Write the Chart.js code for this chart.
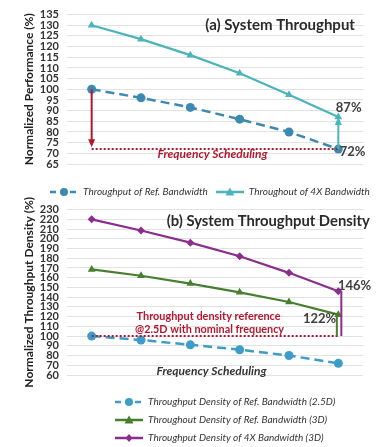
<!DOCTYPE html>
<html><head><meta charset="utf-8">
<script src="https://cdn.jsdelivr.net/npm/chart.js@4.4.0/dist/chart.umd.min.js"></script>
<style>
html,body{margin:0;padding:0;background:#fff;overflow:hidden;}
#wrap{position:relative;width:381px;height:447px;}
#wa{position:absolute;left:0;top:0;width:381px;height:207px;}
#wb{position:absolute;left:0;top:195px;width:381px;height:258px;}
</style></head><body>
<div id="wrap"><div id="wa"><canvas id="ca"></canvas></div><div id="wb"><canvas id="cb"></canvas></div></div>
<script>
const labels = ['f', '0.9f', '0.8f', '0.7f', '0.6f', '0.5f'];
const perfRef = [100, 96, 91.5, 86, 80, 72];
const perf4x = [130, 123.5, 116, 107.5, 97.5, 87];
const densRef = [100, 96, 91, 86, 80, 72];
const dens3d = [168.5, 162, 154, 145, 135, 122];
const dens4x = [220, 208.5, 196, 182, 165, 146];

const RED = '#b3172d';
const FONT = 'Lato, "Open Sans", sans-serif';
Chart.defaults.font.family = FONT;
Chart.defaults.color = '#333';

function icon(color, dash, style) {
	const c = document.createElement('canvas');
	c.width = 28; c.height = 12;
	const g = c.getContext('2d');
	g.strokeStyle = color; g.fillStyle = color; g.lineWidth = 2.5;
	g.setLineDash(dash);
	g.beginPath(); g.moveTo(0, 6); g.lineTo(28, 6); g.stroke();
	g.setLineDash([]);
	g.beginPath();
	if (style === 'circle') g.arc(14, 6, 4, 0, Math.PI * 2);
	else if (style === 'triangle') { g.moveTo(14, 1.5); g.lineTo(18.5, 9.5); g.lineTo(9.5, 9.5); g.closePath(); }
	else { g.moveTo(14, 2); g.lineTo(17.5, 6); g.lineTo(14, 10); g.lineTo(10.5, 6); g.closePath(); }
	g.fill();
	return c;
}

function line(label, data, color, style, dash) {
	return {
		label, data, borderColor: color, backgroundColor: color, borderWidth: dash ? 2.5 : 2.2,
		borderDash: dash || [], pointStyle: style, pointRadius: style === 'rectRot' ? 4 : 4.5,
		pointBackgroundColor: color, pointBorderWidth: 0, tension: 0,
	};
}

// helpers for notes drawn in data space
function P(chart, i, v) {
	return [chart.scales.x.getPixelForValue(i), chart.scales.y.getPixelForValue(v)];
}
function txt(ctx, chart, s, i, v, font, color, maxW) {
	const [x, y] = P(chart, i, v);
	ctx.font = font; ctx.fillStyle = color; ctx.textAlign = 'center'; ctx.textBaseline = 'middle';
	maxW ? ctx.fillText(s, x, y, maxW) : ctx.fillText(s, x, y);
}
function dotted(ctx, chart, v, color) {
	const [x0, y] = P(chart, 0, v);
	const [x1] = P(chart, labels.length - 1, v);
	ctx.save(); ctx.strokeStyle = color; ctx.lineWidth = 2; ctx.setLineDash([2, 2]);
	ctx.beginPath(); ctx.moveTo(x0, y); ctx.lineTo(x1, y); ctx.stroke(); ctx.restore();
}
function vline(ctx, chart, i, v0, v1, color, dx, head) {
	let [x, y0] = P(chart, i, v0);
	const [, y1] = P(chart, i, v1);
	x += dx;
	const d = y1 > y0 ? 1 : -1;
	ctx.save(); ctx.strokeStyle = color; ctx.fillStyle = color; ctx.lineWidth = 2;
	ctx.beginPath(); ctx.moveTo(x, y0); ctx.lineTo(x, head ? y1 - d * 6 : y1); ctx.stroke();
	if (head) {
		ctx.beginPath(); ctx.moveTo(x, y1); ctx.lineTo(x - 3.5, y1 - d * 8); ctx.lineTo(x + 3.5, y1 - d * 8); ctx.closePath(); ctx.fill();
	}
	ctx.restore();
}

function notes(draw) {
	return { id: 'notes', afterDatasetsDraw(chart) { draw(chart.ctx, chart); } };
}
function legendPos(left, right) {
	return { id: 'legendPos', afterLayout(chart) { chart.legend.left = left; chart.legend.right = right; } };
}

function options(yTitle, min, max, step, xHeight, icons) {
	return {
		responsive: true, maintainAspectRatio: false, animation: false,
		layout: { padding: { top: 4, right: 18, left: 0, bottom: 0 } },
		scales: {
			x: {
				offset: true, grid: { display: false }, border: { display: false },
				ticks: { padding: 5, font: { size: 11, weight: 'bold' }, color: '#333' },
				afterFit: (s) => { s.height = xHeight; },
			},
			y: {
				min, max, grid: { color: '#e2e2e2', drawTicks: false }, border: { display: false },
				ticks: { stepSize: step, autoSkip: false, padding: 8, font: { size: 11, weight: 'bold' }, color: '#333' },
				title: { display: true, text: yTitle, font: { size: 12, weight: 'bold' }, color: '#222', padding: { top: 22, bottom: 0 } },
				afterFit: (s) => { s.width = 67; },
			},
		},
		plugins: {
			legend: {
				position: 'bottom', align: 'start',
				labels: {
					usePointStyle: true, pointStyleWidth: 28, padding: 8,
					font: { size: 10, style: 'italic' }, color: '#333',
					generateLabels: (chart) => Chart.defaults.plugins.legend.labels.generateLabels(chart)
						.map((l, i) => ({ ...l, pointStyle: icons[i] })),
				},
			},
			tooltip: { enabled: false },
		},
	};
}

const BLUE_A = '#3d8ab0', TEAL = '#4bb4bb', BLUE_B = '#3e9cc8', GREEN = '#467f2e', PURPLE = '#8b2d8e';

const optA = options('Normalized Performance (%)', 65, 135, 5, 15,
	[icon(BLUE_A, [6, 4], 'circle'), icon(TEAL, [], 'triangle')]);
optA.layout.padding.top = 13;

new Chart(document.getElementById('ca'), {
	type: 'line',
	data: {
		labels,
		datasets: [
			line('Throughput of Ref. Bandwidth', perfRef, BLUE_A, 'circle', [9, 5]),
			line('Throughout of 4X Bandwidth', perf4x, TEAL, 'triangle'),
		],
	},
	options: optA,
	plugins: [
		legendPos(42, 420),
		notes((ctx, c) => {
			dotted(ctx, c, perfRef[5], RED);
			vline(ctx, c, 0, perfRef[0], perfRef[5] + 0.8, RED, 0, true);
			vline(ctx, c, 5, perfRef[5], perf4x[5], TEAL, 0, true);
			txt(ctx, c, '(a) System Throughput', 3.82, 130, 'bold 15px ' + FONT, '#2b2b2b', 152);
			txt(ctx, c, 'Frequency Scheduling', 2.45, 69.5, 'italic bold 12px ' + FONT, RED, 113);
			txt(ctx, c, '87%', 5.21, 91.2, 'bold 13px ' + FONT, '#404040');
			txt(ctx, c, '72%', 5.29, 70.5, 'bold 13px ' + FONT, '#404040');
		}),
	],
});

new Chart(document.getElementById('cb'), {
	type: 'line',
	data: {
		labels,
		datasets: [
			line('Throughput Density of Ref. Bandwidth (2.5D)', densRef, BLUE_B, 'circle', [9, 5]),
			line('Throughout Density of Ref. Bandwidth (3D)', dens3d, GREEN, 'triangle'),
			line('Throughput Density of 4X Bandwidth (3D)', dens4x, PURPLE, 'rectRot'),
		],
	},
	options: options('Normalized Throughput Density (%)', 60, 230, 10, 14,
		[icon(BLUE_B, [6, 4], 'circle'), icon(GREEN, [], 'triangle'), icon(PURPLE, [], 'rectRot')]),
	plugins: [
		legendPos(107, 381),
		notes((ctx, c) => {
			dotted(ctx, c, densRef[0], RED);
			vline(ctx, c, 5, densRef[0], dens3d[5], GREEN, -1.5, false);
			vline(ctx, c, 5, densRef[0], dens4x[5], PURPLE, 3, false);
			txt(ctx, c, '(b) System Throughput Density', 3.58, 217.8, 'bold 15px ' + FONT, '#2b2b2b', 203);
			txt(ctx, c, 'Throughput density reference', 2.37, 120.2, 'bold 12px ' + FONT, RED, 144);
			txt(ctx, c, '@2.5D with nominal frequency', 2.39, 107, 'bold 12px ' + FONT, RED, 149);
			txt(ctx, c, '122%', 4.62, 117.5, 'bold 13px ' + FONT, '#404040');
			txt(ctx, c, '146%', 5.33, 152, 'bold 13px ' + FONT, '#404040');
			txt(ctx, c, 'Frequency Scheduling', 2.43, 63.7, 'italic bold 12px ' + FONT, '#333', 111);
		}),
	],
});
</script>
</body></html>
